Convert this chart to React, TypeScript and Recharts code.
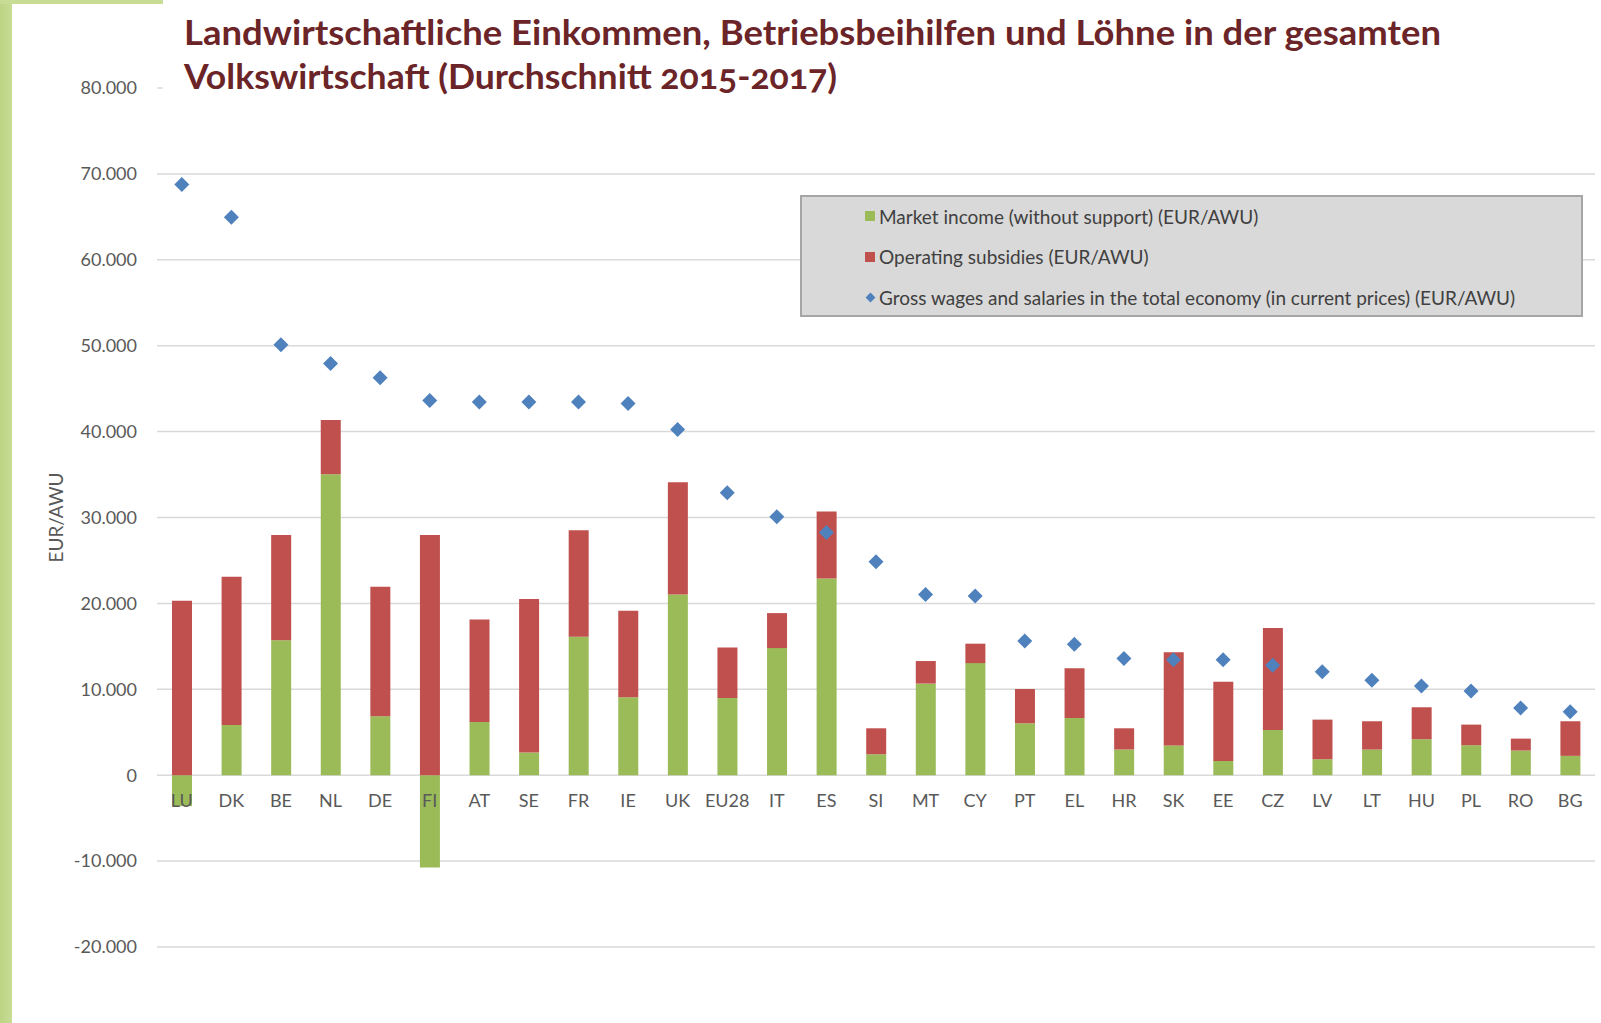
import React from 'react';
import { ComposedChart, Bar, Line, XAxis, YAxis, CartesianGrid, Legend } from 'recharts';

const categories = ['LU', 'DK', 'BE', 'NL', 'DE', 'FI', 'AT', 'SE', 'FR', 'IE', 'UK', 'EU28', 'IT', 'ES', 'SI', 'MT', 'CY', 'PT', 'EL', 'HR', 'SK', 'EE', 'CZ', 'LV', 'LT', 'HU', 'PL', 'RO', 'BG'];
const marketIncome = [-3600, 5850, 15700, 35040, 6860, -10740, 6200, 2640, 16130, 9070, 21030, 8990, 14800, 22910, 2440, 10660, 13050, 6050, 6670, 2990, 3470, 1665, 5270, 1860, 2980, 4190, 3490, 2870, 2250];
const subsidies = [20300, 17250, 12250, 6320, 15080, 27950, 11940, 17860, 12390, 10080, 13080, 5890, 4070, 7790, 3020, 2630, 2260, 3990, 5770, 2470, 10830, 9205, 11860, 4610, 3300, 3720, 2400, 1390, 4030];
const wages = [68770, 64960, 50120, 47940, 46280, 43630, 43450, 43450, 43450, 43260, 40230, 32870, 30080, 28260, 24840, 21050, 20850, 15620, 15230, 13600, 13430, 13430, 12790, 12050, 11050, 10390, 9810, 7830, 7400];
const yTicks = [-20000, -10000, 0, 10000, 20000, 30000, 40000, 50000, 60000, 70000, 80000];

const GREEN = '#9bbb59';
const RED = '#c0504d';
const BLUE = '#4f81bd';
const TEXT = '#595959';
const FONT = 'Lato, "Open Sans", sans-serif';

const W = 1601;
const H = 1023;
const PLOT_TOP = 88;
const PLOT_BOTTOM = 947;
const Y_MIN = -20000;
const Y_MAX = 80000;
// x labels sit on the zero line, not at the bottom of the plot
const ZERO_Y = PLOT_TOP + (Y_MAX / (Y_MAX - Y_MIN)) * (PLOT_BOTTOM - PLOT_TOP);

const data = categories.map((name, i) => ({
  name,
  market: marketIncome[i],
  subsidies: subsidies[i],
  wages: wages[i],
}));

const fmt = (v: number) => (v < 0 ? '-' : '') + String(Math.abs(v)).replace(/\B(?=(\d{3})+(?!\d))/g, '.');

function CategoryTick(props: any) {
  const { x, payload } = props;
  return (
    <text x={x} y={ZERO_Y + 32} textAnchor="middle" fontFamily={FONT} fontSize={18} fill={TEXT}>
      {payload.value}
    </text>
  );
}

function diamond(props: any) {
  const { cx, cy, index } = props;
  if (cx == null || cy == null) return <g key={index} />;
  const r = 7.5;
  return <path key={index} d={`M${cx},${cy - r}L${cx + r},${cy}L${cx},${cy + r}L${cx - r},${cy}Z`} fill={BLUE} />;
}

const legendItems = [
  { label: 'Market income (without support) (EUR/AWU)', color: GREEN, shape: 'square' },
  { label: 'Operating subsidies (EUR/AWU)', color: RED, shape: 'square' },
  { label: 'Gross wages and salaries in the total economy (in current prices) (EUR/AWU)', color: BLUE, shape: 'diamond' },
];

function LegendBox() {
  return (
    <div style={{
      width: 779, height: 118, background: '#d9d9d9', border: '2px solid #a6a6a6',
      position: 'relative', fontFamily: FONT, fontSize: 19, color: '#404040',
    }}>
      {legendItems.map((it, i) => (
        <div key={it.label} style={{ position: 'absolute', left: 63, top: 6 + i * 40.5, height: 26, display: 'flex', alignItems: 'center', whiteSpace: 'nowrap' }}>
          {it.shape === 'square' ? (
            <span style={{ display: 'inline-block', width: 10, height: 10, background: it.color, marginRight: 4 }} />
          ) : (
            <span style={{ display: 'inline-block', width: 7, height: 7, background: it.color, transform: 'rotate(45deg)', margin: '0 5px 0 2px' }} />
          )}
          <span>{it.label}</span>
        </div>
      ))}
    </div>
  );
}

export default function App() {
  return (
    <div style={{ position: 'absolute', left: 0, top: 0, width: W, height: H, background: '#fff', overflow: 'hidden' }}>
      <div style={{ position: 'absolute', left: 0, top: 0, width: 12, height: H, background: 'linear-gradient(90deg, #bcd484, #c8dc95)' }} />
      <div style={{ position: 'absolute', left: 0, top: 0, width: 163, height: 4, background: '#c8dc95' }} />
      <ComposedChart
        width={W}
        height={H}
        data={data}
        stackOffset="sign"
        margin={{ top: PLOT_TOP, right: 6, bottom: H - PLOT_BOTTOM - 20, left: 0 }}
        style={{ position: 'absolute', left: 0, top: 0 }}
      >
        <CartesianGrid vertical={false} stroke="#d9d9d9" strokeWidth={1.5} />
        <YAxis
          width={157}
          domain={[Y_MIN, Y_MAX]}
          ticks={yTicks}
          tickFormatter={fmt}
          axisLine={false}
          tickLine={false}
          tickSize={0}
          tickMargin={20}
          tick={{ fontFamily: FONT, fontSize: 18, fill: TEXT }}
          label={{ value: 'EUR/AWU', angle: -90, position: 'insideLeft', offset: 56, style: { fontFamily: FONT, fontSize: 19, fill: TEXT, textAnchor: 'middle' } }}
        />
        <Bar dataKey="market" stackId="a" fill={GREEN} barSize={20} isAnimationActive={false} />
        <Bar dataKey="subsidies" stackId="a" fill={RED} barSize={20} isAnimationActive={false} />
        <Line dataKey="wages" stroke="none" dot={diamond} activeDot={false} isAnimationActive={false} />
        <XAxis dataKey="name" height={20} axisLine={false} tickLine={false} interval={0} tick={CategoryTick} />
        <Legend
          verticalAlign="middle"
          align="center"
          content={<LegendBox />}
          wrapperStyle={{ left: 800, top: 195, width: 783, height: 122 }}
        />
      </ComposedChart>
      <svg width={W} height={100} style={{ position: 'absolute', left: 0, top: 0 }}>
        <rect x={163} y={0} width={W - 163} height={98} fill="#fff" />
        <text x={184} y={45} fontFamily={FONT} fontWeight={700} fontSize={34} fill="#6b2427" textLength={1257} lengthAdjust="spacingAndGlyphs">
          Landwirtschaftliche Einkommen, Betriebsbeihilfen und Löhne in der gesamten
        </text>
        <text x={184} y={89} fontFamily={FONT} fontWeight={700} fontSize={34} fill="#6b2427" textLength={653} lengthAdjust="spacingAndGlyphs" style={{ fontVariantNumeric: 'oldstyle-nums' }}>
          Volkswirtschaft (Durchschnitt 2015-2017)
        </text>
      </svg>
    </div>
  );
}
